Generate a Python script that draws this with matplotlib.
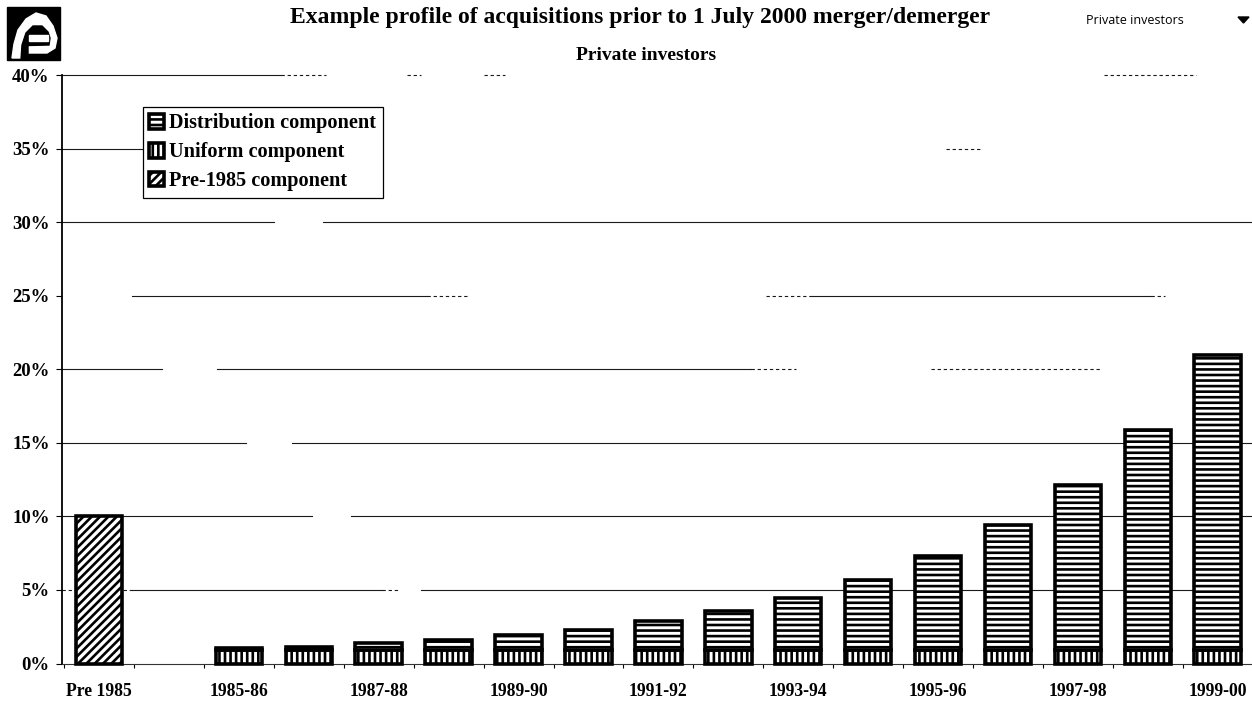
import matplotlib
matplotlib.use('Agg')
import matplotlib.pyplot as plt
from matplotlib.patches import Polygon, Rectangle

plt.rcParams['font.family'] = ['Liberation Serif', 'DejaVu Serif']
plt.rcParams['font.weight'] = 'bold'
plt.rcParams['hatch.linewidth'] = 1.9

# Data, all in percent
periods = ['Pre 1985', '', '1985-86', '1986-87', '1987-88', '1988-89', '1989-90', '1990-91', '1991-92',
           '1992-93', '1993-94', '1994-95', '1995-96', '1996-97', '1997-98', '1998-99', '1999-00']
pre_1985 = [10, 0, 0, 0, 0, 0, 0, 0, 0, 0, 0, 0, 0, 0, 0, 0, 0]
uniform = [0, 0, 0.9, 0.9, 0.9, 0.9, 0.9, 0.9, 0.9, 0.9, 0.9, 0.9, 0.9, 0.9, 0.9, 0.9, 0.9]
distribution = [0, 0, 0.15, 0.25, 0.5, 0.7, 1.05, 1.4, 2.0, 2.65, 3.55, 4.75, 6.4, 8.5, 11.25, 15.0, 20.05]
y_ticks = [0, 5, 10, 15, 20, 25, 30, 35, 40]

# The ruled lines are broken up along their length: (level, start, end) in slot units
solid_spans = [(40, -0.53, 2.6), (35, -0.53, 0.7), (30, -0.53, 2.5), (30, 3.2, 16.5),
               (25, 0.47, 4.69), (25, 10.2, 15.04), (20, -0.53, 0.9), (20, 1.69, 9.33),
               (15, -0.53, 2.1), (15, 2.76, 16.5), (10, -0.53, 3.04), (10, 3.61, 16.5),
               (5, 0.47, 4.04), (5, 4.61, 16.1)]
dashed_spans = [(40, 2.6, 3.25), (40, 4.4, 4.6), (40, 5.5, 5.8), (40, 14.37, 15.69),
                (35, 12.11, 12.61), (25, 4.69, 5.26), (25, 9.54, 10.2), (25, 15.04, 15.25),
                (20, 9.33, 9.97), (20, 11.9, 14.33), (5, -0.53, 0.47), (5, 4.04, 4.3)]

fig = plt.figure(figsize=(12.52, 7.04), dpi=100)
ax = fig.add_axes([62 / 1252, (704 - 663.5) / 704, 1190 / 1252, 588.5 / 704])

for level, start, end in solid_spans:
    ax.plot([start, end], [level, level], color='#1a1a1a', lw=0.8, zorder=1, clip_on=False)
for level, start, end in dashed_spans:
    ax.plot([start, end], [level, level], color='#1a1a1a', lw=0.8, ls=(0, (3, 2.5)), zorder=1, clip_on=False)

x = range(len(periods))
bar_style = dict(width=0.665, facecolor='white', edgecolor='black', linewidth=2.6, zorder=3, clip_on=False)

# Empty slots get no bar at all, otherwise the thick edge shows up as a dash on the axis
pre_x = [i for i in x if pre_1985[i] > 0]
stack_x = [i for i in x if uniform[i] > 0]
pre_bars = ax.bar(pre_x, [pre_1985[i] for i in pre_x], hatch='////', **bar_style)
uni_bars = ax.bar(stack_x, [uniform[i] for i in stack_x], hatch='|||', **bar_style)
dist_bars = ax.bar(stack_x, [distribution[i] for i in stack_x], bottom=[uniform[i] for i in stack_x],
                   hatch='---', **bar_style)

ax.set_xlim(-0.53, 16.49)
ax.set_ylim(0, 40)

ax.spines['top'].set_visible(False)
ax.spines['right'].set_visible(False)
ax.spines['left'].set_linewidth(1.3)
ax.spines['bottom'].set_linewidth(0.8)
ax.spines['bottom'].set_color('#333333')

# Ticks sit on the slot boundaries, labels on every second slot centre
ax.set_xticks([i - 0.5 for i in x])
ax.set_xticklabels([])
ax.tick_params(axis='x', which='major', length=3, width=0.8, direction='out')
ax.set_xticks(list(x)[::2], minor=True)
ax.set_xticklabels(periods[::2], minor=True, fontsize=12.7, fontweight='bold')
ax.tick_params(axis='x', which='minor', length=0, pad=14)

ax.set_yticks(y_ticks)
ax.set_yticklabels([f'{v}%' for v in y_ticks], fontsize=13.5, fontweight='bold')
ax.tick_params(axis='y', length=4, width=0.8, direction='out', pad=5)

legend = ax.legend([dist_bars, uni_bars, pre_bars],
                   ['Distribution component', 'Uniform component', 'Pre-1985 component'],
                   loc='upper left', bbox_to_anchor=(81 / 1190, 1 - 32 / 588.5), borderaxespad=0,
                   fontsize=14.6, handlelength=0.72, handleheight=0.72, handletextpad=0.25,
                   labelspacing=0.44, borderpad=0.32, fancybox=False, framealpha=1,
                   edgecolor='black', facecolor='white')
legend.get_frame().set_linewidth(0.9)
legend.set_zorder(5)

# Overlay in pixel coordinates for the header furniture
over = fig.add_axes([0, 0, 1, 1], facecolor='none')
over.set_xlim(0, 1252)
over.set_ylim(704, 0)
over.axis('off')

over.text(640.5, 18, 'Example profile of acquisitions prior to 1 July 2000 merger/demerger',
          ha='center', va='center', fontsize=17, fontweight='bold')
over.text(646.5, 55, 'Private investors', ha='center', va='center', fontsize=14, fontweight='bold')
over.text(1135, 20.5, 'Private investors', ha='center', va='center', fontsize=9,
          fontweight='normal', family='Open Sans')
over.add_patch(Polygon([(1238, 17), (1249, 17), (1243.5, 23)], closed=True, color='black'))

# Logo: a white arch curling into an e, on a black square
over.add_patch(Rectangle((7, 7), 53, 53, color='black'))
over.add_patch(Polygon([(12, 58), (14, 44), (18, 30), (26, 19), (36, 13), (46, 16), (53, 26), (57, 38),
                        (55, 48), (47, 53), (21, 53), (21, 58)], closed=True, color='white'))
over.add_patch(Polygon([(21, 60), (22, 45), (26, 33), (33, 26), (42, 26), (48, 32), (50, 38), (49, 45),
                        (28, 45.5), (28, 60)], closed=True, color='black'))
over.add_patch(Rectangle((29, 35), 19, 6, color='white'))

fig.savefig('out.png', dpi=100)
